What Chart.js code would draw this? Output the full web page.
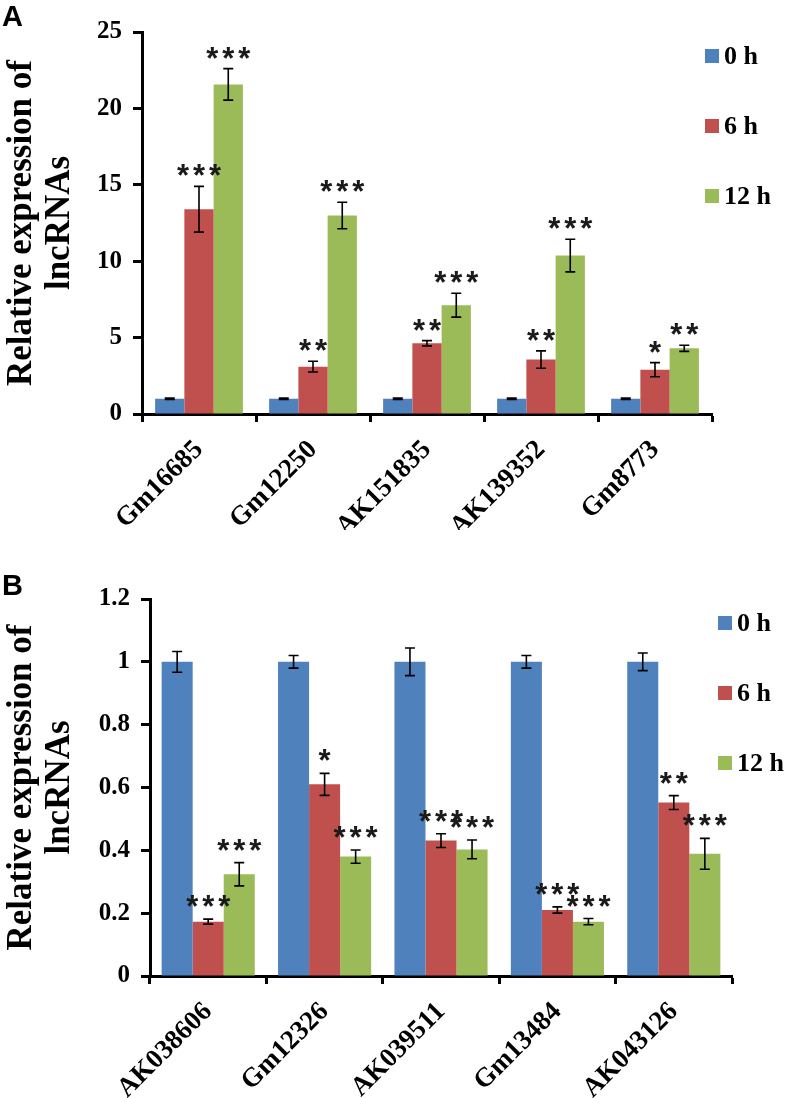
<!DOCTYPE html>
<html>
<head>
<meta charset="utf-8">
<script src="https://cdn.jsdelivr.net/npm/chart.js@4.4.1/dist/chart.umd.min.js"></script>
<style>
  body { margin: 0; background: #fff; }
  canvas { display: block; }
</style>
</head>
<body>
<canvas id="chartA" width="787" height="530"></canvas>
<canvas id="chartB" width="787" height="568"></canvas>
<script>
// ---- data ----
const timeLabels = ['0 h', '6 h', '12 h'];
const barColors = ['#4F81BD', '#C0504D', '#9BBB59'];

// panel A: up-regulated lncRNAs
const genesA = ['Gm16685', 'Gm12250', 'AK151835', 'AK139352', 'Gm8773'];
const a0h = [1, 1, 1, 1, 1];
const a0hErr = [0.04, 0.04, 0.04, 0.04, 0.04];
const a6h = [13.4, 3.1, 4.63, 3.56, 2.9];
const a6hErr = [1.5, 0.35, 0.17, 0.57, 0.46];
const a12h = [21.57, 12.99, 7.12, 10.37, 4.3];
const a12hErr = [1.03, 0.87, 0.78, 1.07, 0.2];
const a6hStars = ['***', '**', '**', '**', '*'];
const a12hStars = ['***', '***', '***', '***', '**'];
const ticksA = [0, 5, 10, 15, 20, 25];

// panel B: down-regulated lncRNAs
const genesB = ['AK038606', 'Gm12326', 'AK039511', 'Gm13484', 'AK043126'];
const b0h = [1, 1, 1, 1, 1];
const b0hErr = [0.033, 0.02, 0.044, 0.02, 0.028];
const b6h = [0.173, 0.61, 0.431, 0.21, 0.552];
const b6hErr = [0.008, 0.035, 0.022, 0.01, 0.022];
const b12h = [0.324, 0.38, 0.403, 0.173, 0.389];
const b12hErr = [0.037, 0.021, 0.03, 0.01, 0.049];
const b6hStars = ['***', '*', '***', '***', '**'];
const b12hStars = ['***', '***', '***', '***', '***'];
const ticksB = [0, 0.2, 0.4, 0.6, 0.8, 1, 1.2];

const serif = "'Liberation Serif', 'Times New Roman', serif";
Chart.defaults.font.family = serif;
Chart.defaults.color = '#000';

// error bars and significance stars
const errorBars = {
  id: 'errorBars',
  afterDatasetsDraw(chart, args, opts) {
    const ctx = chart.ctx;
    const y = chart.scales.y;
    ctx.save();
    chart.data.datasets.forEach((ds, i) => {
      const meta = chart.getDatasetMeta(i);
      meta.data.forEach((bar, j) => {
        const v = ds.data[j];
        const e = ds.errors[j];
        const top = y.getPixelForValue(v + e);
        const bot = y.getPixelForValue(v - e);
        ctx.strokeStyle = '#000';
        ctx.lineWidth = 1.6;
        ctx.beginPath();
        ctx.moveTo(bar.x, top); ctx.lineTo(bar.x, bot);
        ctx.moveTo(bar.x - 5, top); ctx.lineTo(bar.x + 5, top);
        ctx.moveTo(bar.x - 5, bot); ctx.lineTo(bar.x + 5, bot);
        ctx.stroke();

        const s = ds.stars ? ds.stars[j] : '';
        if (s) {
          ctx.font = 'bold 31px "Liberation Sans", Arial, sans-serif';
          ctx.fillStyle = '#1a1a1a';
          ctx.textAlign = 'center';
          ctx.textBaseline = 'alphabetic';
          const m = ctx.measureText('*');
          const cy = top - opts.gap;
          const by = cy + (m.actualBoundingBoxAscent - m.actualBoundingBoxDescent) / 2;
          for (let k = 0; k < s.length; k++) {
            ctx.fillText('*', bar.x + (k - (s.length - 1) / 2) * 16, by);
          }
        }
      });
    });
    ctx.restore();
  }
};

// legend on the right and panel letter
const sideLegend = {
  id: 'sideLegend',
  afterDraw(chart, args, opts) {
    const ctx = chart.ctx;
    const area = chart.chartArea;
    ctx.save();
    chart.data.datasets.forEach((ds, i) => {
      const cy = area.top + 24 + i * 70;
      ctx.fillStyle = ds.backgroundColor;
      ctx.fillRect(area.right + opts.dx, cy - 7, 14, 14);
      ctx.fillStyle = '#000';
      ctx.font = 'bold 26px ' + serif;
      ctx.textAlign = 'left';
      ctx.textBaseline = 'middle';
      ctx.fillText(ds.label, area.right + opts.dx + 19, cy + 1);
    });
    ctx.font = 'bold 29px "Liberation Sans", Arial, sans-serif';
    ctx.textBaseline = 'top';
    ctx.fillText(opts.letter, 2, opts.letterY);
    ctx.restore();
  }
};

function makeChart(id, genes, series, errs, stars, tickVals, cfg) {
  return new Chart(document.getElementById(id), {
    type: 'bar',
    data: {
      labels: genes,
      datasets: series.map((d, i) => ({
        label: timeLabels[i],
        data: d,
        errors: errs[i],
        stars: stars[i],
        backgroundColor: barColors[i],
        borderWidth: 0,
        barPercentage: 1,
        categoryPercentage: cfg.catPct
      }))
    },
    options: {
      responsive: false,
      animation: false,
      layout: { padding: { top: cfg.top, right: cfg.right, left: 0, bottom: 0 } },
      plugins: {
        legend: { display: false },
        tooltip: { enabled: false },
        errorBars: { gap: cfg.gap },
        sideLegend: { dx: cfg.legendDx, letter: cfg.letter, letterY: cfg.letterY }
      },
      scales: {
        x: {
          border: { color: '#000', width: 3 },
          grid: { drawOnChartArea: false, tickLength: 8, tickWidth: 3, tickColor: '#000' },
          ticks: {
            autoSkip: false, minRotation: 45, maxRotation: 45, padding: 12,
            font: { size: 27, weight: 'bold' }
          },
          afterFit: s => { s.height = cfg.xHeight; }
        },
        y: {
          min: 0,
          max: tickVals[tickVals.length - 1],
          afterBuildTicks: s => { s.ticks = tickVals.map(v => ({ value: v })); },
          border: { color: '#000', width: 3 },
          grid: { drawOnChartArea: false, tickLength: 9, tickWidth: 3, tickColor: '#000' },
          ticks: {
            padding: 11,
            font: { size: 25, weight: 'bold' },
            callback: v => String(+v.toFixed(1))
          },
          title: {
            display: true,
            text: ['Relative expression of', 'lncRNAs'],
            font: { size: 35, weight: 'bold', lineHeight: '38px' },
            padding: { top: 3, bottom: 0 }
          },
          afterFit: s => { s.width = cfg.yWidth; }
        }
      }
    },
    plugins: [errorBars, sideLegend]
  });
}

makeChart('chartA', genesA, [a0h, a6h, a12h], [a0hErr, a6hErr, a12hErr],
  [[], a6hStars, a12hStars], ticksA,
  { catPct: 0.77, top: 32, right: 75, xHeight: 116, yWidth: 142, gap: 16,
    legendDx: -7, letter: 'A', letterY: 3 });

makeChart('chartB', genesB, [b0h, b6h, b12h], [b0hErr, b6hErr, b12hErr],
  [[], b6hStars, b12hStars], ticksB,
  { catPct: 0.8, top: 69, right: 55, xHeight: 122, yWidth: 150, gap: 18,
    legendDx: -14, letter: 'B', letterY: 42 });
</script>
</body>
</html>
